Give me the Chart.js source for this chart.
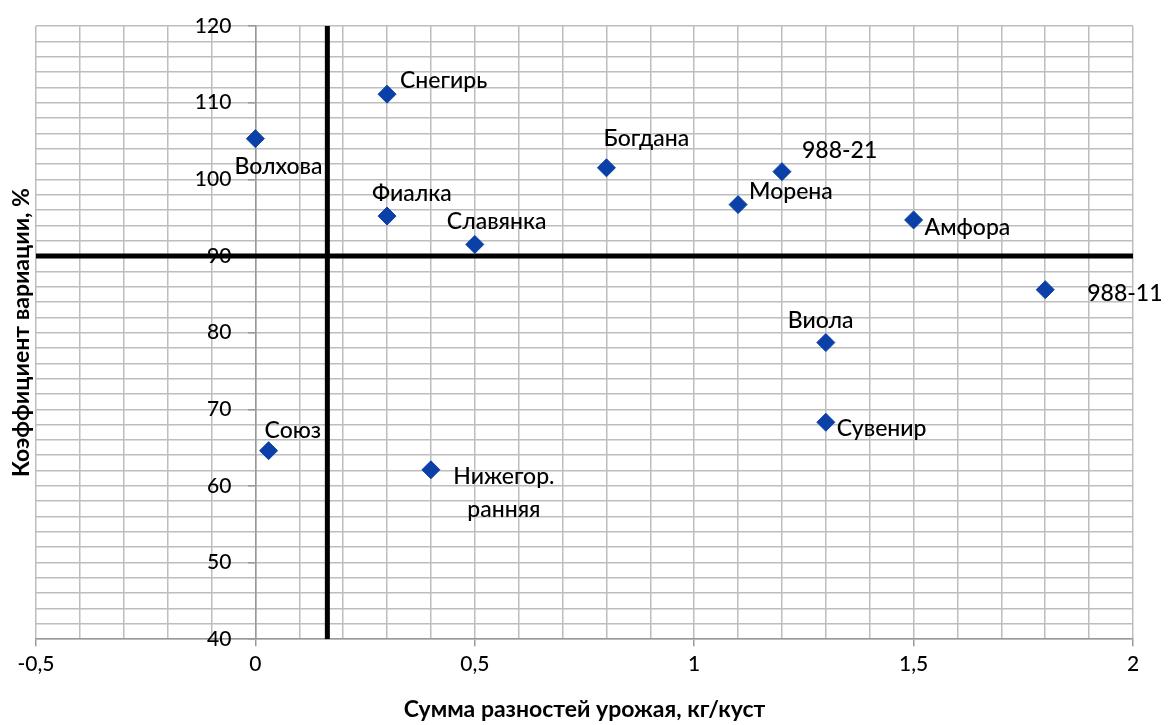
<!DOCTYPE html>
<html>
<head>
<meta charset="utf-8">
<script src="https://cdn.jsdelivr.net/npm/chart.js@4"></script>
<style>
  html, body { margin: 0; padding: 0; background: #fff; }
  #wrap { width: 1169px; height: 725px; }
</style>
</head>
<body>
<div id="wrap"><canvas id="scatterChart"></canvas></div>
<script>
// varieties and their values
const varieties = ['Волхова', 'Снегирь', 'Фиалка', 'Славянка', 'Богдана', '988-21', 'Морена',
                   'Амфора', '988-11', 'Виола', 'Сувенир', 'Союз', 'Нижегор.\nранняя'];
const yieldDiff = [0, 0.3, 0.3, 0.5, 0.8, 1.2, 1.1, 1.5, 1.8, 1.3, 1.3, 0.03, 0.4];
const variation = [105.3, 111.1, 95.2, 91.5, 101.5, 101.0, 96.7, 94.7, 85.6, 78.7, 68.3, 64.6, 62.1];

// axis range / tick labels
const xTickValues = [-0.5, 0, 0.5, 1, 1.5, 2];
const yTickValues = [40, 50, 60, 70, 80, 90, 100, 110, 120];

// the two dividing lines
const dividerX = 0.164;
const dividerY = 90;

// label placement next to each point: [dx, dy, align]
const labelOffsets = [
    [-21, 28, 'left'], [13, -14, 'left'], [-15, -23, 'left'], [-28, -23, 'left'],
    [-3, -29, 'left'], [20, -21, 'left'], [11, -13, 'left'], [11, 8, 'left'],
    [42, 4, 'left'], [-38, -22, 'left'], [11, 6, 'left'], [-4, -20, 'left'],
    [73, 7, 'center']
];

const FONT = 'Lato, "Open Sans", sans-serif';

const pointLabels = {
    id: 'pointLabels',
    afterDatasetsDraw(chart) {
        const ctx = chart.ctx;
        const xs = chart.scales.x, ys = chart.scales.y;
        ctx.save();
        ctx.fillStyle = '#000';
        ctx.textBaseline = 'middle';

        // y tick labels, left of the axis sitting at x = 0
        ctx.font = '500 21px ' + FONT;
        ctx.textAlign = 'right';
        const axisX = xs.getPixelForValue(0);
        yTickValues.forEach(v => {
            ctx.fillText(String(v), axisX - 24, ys.getPixelForValue(v));
        });

        ctx.font = '500 23px ' + FONT;
        varieties.forEach((name, i) => {
            const px = xs.getPixelForValue(yieldDiff[i]);
            const py = ys.getPixelForValue(variation[i]);
            const [dx, dy, align] = labelOffsets[i];
            ctx.textAlign = align;
            name.split('\n').forEach((line, k) => {
                ctx.fillText(line, px + dx, py + dy + k * 33);
            });
        });

        // y axis title, far left
        ctx.font = 'bold 23px ' + FONT;
        ctx.textAlign = 'center';
        ctx.translate(22, (chart.chartArea.top + chart.chartArea.bottom) / 2);
        ctx.rotate(-Math.PI / 2);
        ctx.fillText('Коэффициент вариации, %', 0, 0);
        ctx.restore();
    }
};

const ctxScatter = document.getElementById('scatterChart').getContext('2d');

let scatterChart = new Chart(ctxScatter, {
    type: 'scatter',
    data: {
        datasets: [
            {
                data: yieldDiff.map((x, i) => ({ x: x, y: variation[i] })),
                pointStyle: 'rectRot',
                pointRadius: 9,
                backgroundColor: '#0a40a8',
                borderColor: '#0a40a8',
                borderWidth: 1
            },
            {
                data: [{ x: dividerX, y: yTickValues[0] }, { x: dividerX, y: yTickValues[yTickValues.length - 1] }],
                showLine: true,
                pointRadius: 0,
                borderColor: '#000',
                borderWidth: 5
            },
            {
                data: [{ x: xTickValues[0], y: dividerY }, { x: xTickValues[xTickValues.length - 1], y: dividerY }],
                showLine: true,
                pointRadius: 0,
                borderColor: '#000',
                borderWidth: 5
            }
        ]
    },
    options: {
        animation: false,
        responsive: true,
        maintainAspectRatio: false,
        layout: {
            padding: { left: 36, right: 36, top: 26, bottom: 0 }
        },
        plugins: {
            legend: { display: false },
            tooltip: { enabled: false }
        },
        scales: {
            x: {
                type: 'linear',
                position: 'bottom',
                min: xTickValues[0],
                max: xTickValues[xTickValues.length - 1],
                ticks: {
                    stepSize: 0.1,
                    autoSkip: false,
                    maxRotation: 0,
                    padding: 5,
                    color: '#000',
                    font: { family: FONT, size: 21, weight: 500 },
                    callback: v => {
                        const h = Math.round(v * 10);
                        return h % 5 === 0 ? String(h / 10).replace('.', ',') : '';
                    }
                },
                grid: {
                    color: '#bdbdbd',
                    lineWidth: 1.5,
                    tickLength: 7,
                    tickColor: c => (c.tick && Math.round(c.tick.value * 10) % 5 === 0) ? '#999' : 'rgba(0,0,0,0)'
                },
                border: { color: '#999', width: 1.5 },
                title: {
                    display: true,
                    text: 'Сумма разностей урожая, кг/куст',
                    color: '#000',
                    font: { family: FONT, size: 23, weight: 'bold' },
                    padding: { top: 14, bottom: 2 }
                }
            },
            y: {
                type: 'linear',
                position: { x: 0 },
                min: yTickValues[0],
                max: yTickValues[yTickValues.length - 1],
                ticks: {
                    stepSize: 2,
                    autoSkip: false,
                    display: false
                },
                grid: {
                    color: '#bdbdbd',
                    lineWidth: 1.5,
                    tickLength: 7,
                    tickColor: c => (c.tick && c.tick.value % 10 === 0) ? '#999' : 'rgba(0,0,0,0)'
                },
                border: { color: '#999', width: 1.5 }
            }
        }
    },
    plugins: [pointLabels]
});
</script>
</body>
</html>
